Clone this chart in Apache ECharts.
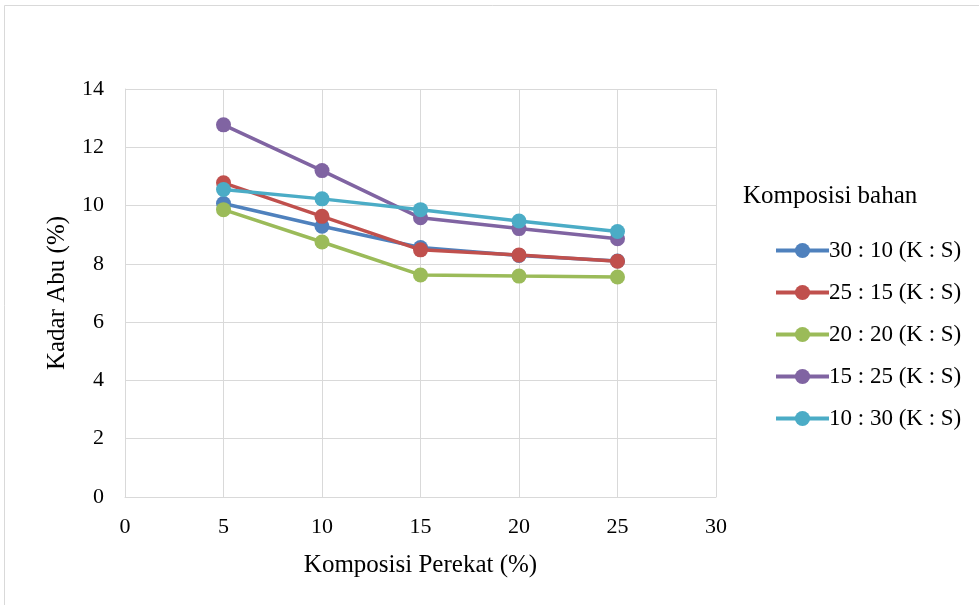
<!DOCTYPE html>
<html>
<head>
<meta charset="utf-8">
<script src="https://cdn.jsdelivr.net/npm/echarts@6/dist/echarts.min.js"></script>
<style>
html,body{margin:0;padding:0;background:#fff;}
#chart{width:979px;height:605px;}
</style>
</head>
<body>
<div id="chart"></div>
<script>
const xValues = [5, 10, 15, 20, 25];
const seriesNames = ['30 : 10 (K : S)', '25 : 15 (K : S)', '20 : 20 (K : S)', '15 : 25 (K : S)', '10 : 30 (K : S)'];
const s30_10 = [10.07, 9.29, 8.56, 8.29, 8.10];
const s25_15 = [10.78, 9.63, 8.48, 8.30, 8.09];
const s20_20 = [9.86, 8.75, 7.62, 7.58, 7.55];
const s15_25 = [12.77, 11.20, 9.58, 9.21, 8.86];
const s10_30 = [10.55, 10.23, 9.86, 9.47, 9.11];
const colors = ['#4F81BD', '#C0504D', '#9BBB59', '#8064A2', '#4BACC6'];
const allSeries = [s30_10, s25_15, s20_20, s15_25, s10_30];

const font = '"Liberation Serif", "Times New Roman", serif';
const chart = echarts.init(document.getElementById('chart'), null, {renderer: 'canvas'});
chart.setOption({
  animation: false,
  backgroundColor: '#fff',
  textStyle: {fontFamily: font},
  graphic: [
    {type: 'rect', shape: {x: 4.5, y: 5.5, width: 980, height: 610}, style: {fill: 'none', stroke: '#d9d9d9', lineWidth: 1}},
    {type: 'text', left: 743, top: 184, style: {text: 'Komposisi bahan', font: '25px ' + font, fill: '#000'}}
  ],
  grid: {left: 125, right: 263, top: 89, bottom: 108, containLabel: false},
  legend: {
    orient: 'vertical',
    left: 769,
    top: 234,
    itemWidth: 53,
    itemHeight: 19,
    itemGap: 19,
    lineStyle: {width: 4},
    textStyle: {fontFamily: font, fontSize: 23, lineHeight: 19, color: '#000', padding: [0, 0, 0, -5]},
    data: seriesNames
  },
  xAxis: {
    type: 'value',
    min: 0, max: 30, interval: 5,
    name: 'Komposisi Perekat (%)',
    nameLocation: 'middle',
    nameGap: 56,
    nameTextStyle: {fontFamily: font, fontSize: 25, color: '#000'},
    axisLine: {show: true, lineStyle: {color: '#d9d9d9', width: 1}},
    axisTick: {show: false},
    axisLabel: {fontFamily: font, fontSize: 22, color: '#000', margin: 19},
    splitLine: {show: true, lineStyle: {color: '#d9d9d9', width: 1}}
  },
  yAxis: {
    type: 'value',
    min: 0, max: 14, interval: 2,
    name: 'Kadar Abu (%)',
    nameLocation: 'middle',
    nameGap: 55,
    nameRotate: 90,
    nameTextStyle: {fontFamily: font, fontSize: 25, color: '#000'},
    axisLine: {show: true, lineStyle: {color: '#d9d9d9', width: 1}},
    axisTick: {show: false},
    axisLabel: {fontFamily: font, fontSize: 22, color: '#000', margin: 21},
    splitLine: {show: true, lineStyle: {color: '#d9d9d9', width: 1}}
  },
  series: allSeries.map((vals, i) => ({
    name: seriesNames[i],
    type: 'line',
    data: xValues.map((x, j) => [x, vals[j]]),
    symbol: 'circle',
    symbolSize: 15,
    color: colors[i],
    lineStyle: {width: 3.5, color: colors[i]},
    itemStyle: {color: colors[i]},
    z: 2 + i
  }))
});
</script>
</body>
</html>
